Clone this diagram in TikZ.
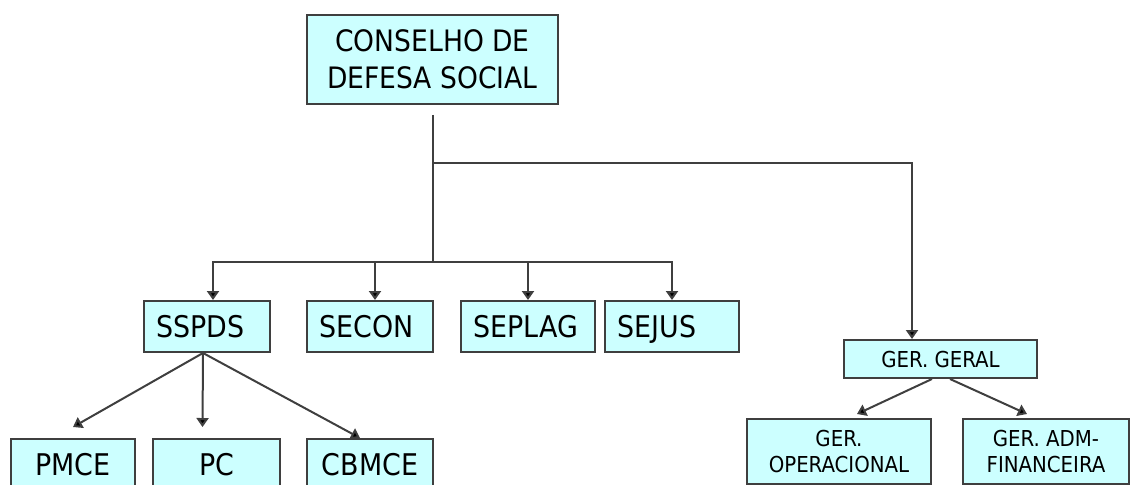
\documentclass[tikz,border=0pt]{standalone}
\usepackage{fontspec}
\setmainfont{DejaVu Sans Condensed}
\usetikzlibrary{arrows.meta}
\definecolor{boxfill}{HTML}{CCFFFF}
\definecolor{linegray}{HTML}{3F3F3F}

\begin{document}
\begin{tikzpicture}[x=0.02cm, y=-0.02cm,
    box/.style={draw=linegray, fill=boxfill, line width=0.04cm, inner sep=0pt},
    topbox/.style={box, minimum width=5.02cm, minimum height=1.78cm, align=center, font=\fontsize{16.8}{21}\selectfont},
    secbox/.style={box, minimum height=1.02cm, inner xsep=0.25cm, align=left, text height=0.44cm, text depth=0pt, font=\fontsize{17}{20}\selectfont},
    unitbox/.style={box, minimum height=1.02cm, text height=0.44cm, text depth=0pt, font=\fontsize{17}{20}\selectfont},
    gerbox/.style={box, align=center, font=\fontsize{12.5}{14.4}\selectfont},
    link/.style={draw=linegray, line width=0.04cm},
    arr/.style={link, -{Triangle[width=0.24cm, length=0.18cm, fill=black]}}]
    \useasboundingbox (0,0) rectangle (1130,484);
    \clip (0,0) rectangle (1130,484);

    \node[topbox] (cds) at (432.5,59.5) {CONSELHO DE\\DEFESA SOCIAL};

    \node[secbox, text width=2.02cm] (sspds) at (207,326.5) {SSPDS};
    \node[secbox, text width=2.02cm] (secon) at (370,326.5) {SECON};
    \node[secbox, text width=2.18cm] (seplag) at (528,326.5) {SEPLAG};
    \node[secbox, text width=2.18cm] (sejus) at (672,326.5) {SEJUS};

    \node[unitbox, minimum width=2.48cm] (pmce) at (73,464.5) {PMCE};
    \node[unitbox, minimum width=2.54cm] (pc) at (216.5,464.5) {PC};
    \node[unitbox, minimum width=2.52cm] (cbmce) at (370,464.5) {CBMCE};

    \node[gerbox, minimum width=3.86cm, minimum height=0.76cm] (gergeral) at (940.5,359) {GER. GERAL};
    \node[gerbox, minimum width=3.68cm, minimum height=1.3cm] (geroper) at (839,451.5) {GER.\\OPERACIONAL};
    \node[gerbox, minimum width=3.32cm, minimum height=1.3cm] (geradm) at (1046,451.5) {GER. ADM-\\FINANCEIRA};

    \coordinate (split) at (432.5,163);
    \coordinate (bus) at (432.5,262);

    % council down to the two branches
    \draw[link] ([yshift=-0.2cm]cds.south) -- (bus);
    \draw[arr] (split) -| ([xshift=-0.57cm]gergeral.north);

    % secretarias
    \draw[arr] (bus) -| ([xshift=0.12cm]sspds.north);
    \draw[arr] (bus) -| ([xshift=0.1cm]secon.north);
    \draw[arr] (bus) -| (seplag.north);
    \draw[arr] (bus) -| (sejus.north);

    % units under SSPDS
    \draw[arr] ([xshift=-0.08cm]sspds.south) -- ([yshift=0.22cm]pmce.north);
    \draw[arr] ([xshift=-0.08cm]sspds.south) -- ([xshift=-0.28cm, yshift=0.22cm]pc.north);
    \draw[arr] ([xshift=-0.08cm]sspds.south) -- ([xshift=-0.2cm]cbmce.north);

    % gerencias
    \draw[arr] ([xshift=-0.17cm]gergeral.south) -- ([xshift=0.36cm, yshift=0.08cm]geroper.north);
    \draw[arr] ([xshift=0.19cm]gergeral.south) -- ([xshift=-0.38cm, yshift=0.08cm]geradm.north);
\end{tikzpicture}
\end{document}
